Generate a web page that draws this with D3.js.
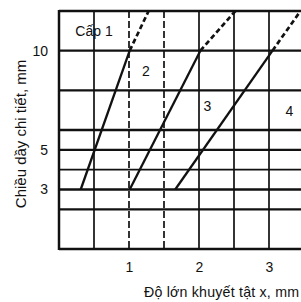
<!DOCTYPE html>
<html lang="vi">
<head>
<meta charset="UTF-8">
<title>Cấp khuyết tật</title>
<script src="https://d3js.org/d3.v7.min.js"></script>
<style>
    body { margin: 0; background: #fff; }
    svg text { font-family: "Liberation Sans", Arial, sans-serif; fill: #111; }
</style>
</head>
<body>
<svg id="chart" width="301" height="302"></svg>
<script>
    // grid values
    const yLines = [0, 2, 3, 4, 5, 6, 8, 10, 12];
    const xLines = [0.5, 1, 1.5, 2, 2.5, 3];
    const xDashed = [1, 1.5];
    const yTicks = [3, 5, 10];
    const xTicks = [1, 2, 3];

    // boundary lines between grades: [x, thickness], last segment is dashed
    const bound1 = [[0.31, 3], [1.01, 10], [1.28, 12]];
    const bound2 = [[1.01, 3], [2.02, 10], [2.52, 12]];
    const bound3 = [[1.66, 3], [3.05, 10], [3.45, 12]];
    const boundaries = [bound1, bound2, bound3];

    const gradeNames = ["Cấp 1", "2", "3", "4"];
    const gradeAt = [[0.5, 10.75], [1.24, 8.7], [2.12, 6.95], [3.29, 6.7]];

    const svg = d3.select("#chart");
    const x = d3.scaleLinear().domain([0, 3.5]).range([59, 304]);
    const y = d3.scaleLinear().domain([0, 12]).range([249, 11]);

    // horizontal grid
    svg.selectAll(".hline").data(yLines).enter().append("line")
        .attr("x1", x(0)).attr("x2", 301)
        .attr("y1", d => y(d)).attr("y2", d => y(d))
        .attr("stroke", "#111").attr("stroke-width", d => d == 4 ? 1.9 : 2.4);

    // vertical grid
    svg.selectAll(".vline").data(xLines).enter().append("line")
        .attr("x1", d => x(d)).attr("x2", d => x(d))
        .attr("y1", y(12)).attr("y2", y(0))
        .attr("stroke", "#111").attr("stroke-width", 1.7)
        .attr("stroke-dasharray", d => xDashed.includes(d) ? "7,3" : null);

    // left frame
    svg.append("line")
        .attr("x1", x(0)).attr("x2", x(0))
        .attr("y1", y(12) - 1).attr("y2", y(0) + 1)
        .attr("stroke", "#111").attr("stroke-width", 2.5);

    const line = d3.line().x(d => x(d[0])).y(d => y(d[1]));

    boundaries.forEach(b => {
        svg.append("path").datum(b.slice(0, 2))
            .attr("d", line).attr("fill", "none")
            .attr("stroke", "#111").attr("stroke-width", 2.3);
        svg.append("path").datum(b.slice(1))
            .attr("d", line).attr("fill", "none")
            .attr("stroke", "#111").attr("stroke-width", 2.7)
            .attr("stroke-dasharray", "5,3");
    });

    // grade labels
    svg.selectAll(".grade").data(gradeNames).enter().append("text")
        .attr("x", (d, i) => x(gradeAt[i][0]))
        .attr("y", (d, i) => y(gradeAt[i][1]))
        .attr("text-anchor", "middle")
        .attr("font-size", 14)
        .text(d => d);

    // axes (labels only)
    const yAxis = svg.append("g")
        .attr("transform", `translate(${x(0)},0)`)
        .call(d3.axisLeft(y).tickValues(yTicks).tickFormat(d3.format("d")).tickSize(0).tickPadding(11));
    yAxis.select(".domain").remove();

    const xAxis = svg.append("g")
        .attr("transform", `translate(0,${y(0)})`)
        .call(d3.axisBottom(x).tickValues(xTicks).tickFormat(d3.format("d")).tickSize(0).tickPadding(13));
    xAxis.select(".domain").remove();

    svg.selectAll(".tick text")
        .attr("font-family", null).attr("font-size", 14).attr("fill", "#111");
    yAxis.attr("font-family", null).attr("font-size", 14);
    xAxis.attr("font-family", null).attr("font-size", 14);

    // axis titles
    svg.append("text")
        .attr("transform", "translate(26,134) rotate(-90)")
        .attr("text-anchor", "middle")
        .attr("font-size", 15)
        .text("Chiều dầy chi tiết, mm");

    svg.append("text")
        .attr("x", 144).attr("y", 297)
        .attr("font-size", 14.2)
        .attr("textLength", 155)
        .text("Độ lớn khuyết tật x, mm");
</script>
</body>
</html>
